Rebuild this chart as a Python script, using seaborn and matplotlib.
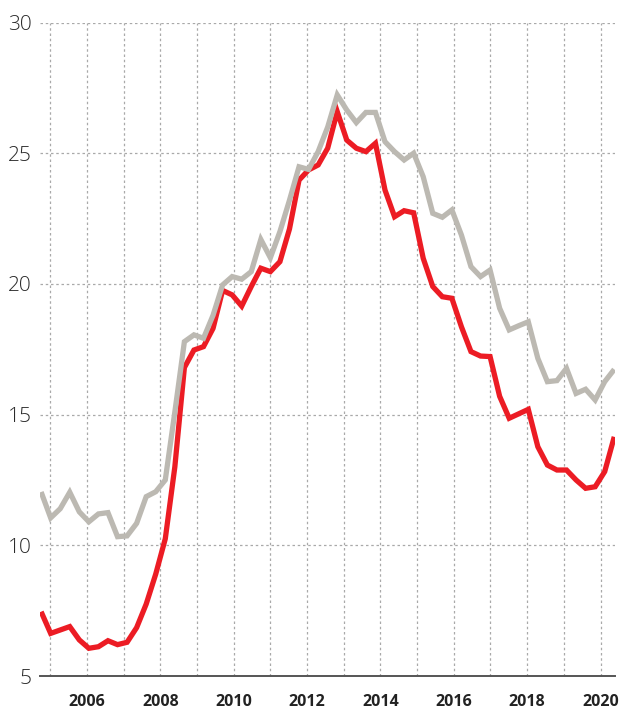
import numpy as np
import pandas as pd
import matplotlib
matplotlib.use("Agg")
import matplotlib.pyplot as plt
import seaborn as sns
from matplotlib.ticker import MultipleLocator, FixedLocator

# ---- data ----
start_year = 2004.75
end_year = 2020.375
gray_values = [12.04, 11.05, 11.4, 12.03, 11.28, 10.9, 11.2, 11.25, 10.33, 10.36,
               10.84, 11.86, 12.05, 12.5, 15.1, 17.79, 18.05, 17.92, 18.8, 19.96,
               20.28, 20.18, 20.47, 21.7, 21.0, 22.0, 23.2, 24.48, 24.38, 25.06,
               26.0, 27.23, 26.65, 26.17, 26.56, 26.56, 25.44, 25.06, 24.74, 25.0,
               24.1, 22.7, 22.55, 22.83, 21.87, 20.66, 20.28, 20.53, 19.07, 18.24,
               18.4, 18.55, 17.15, 16.26, 16.3, 16.77, 15.81, 15.97, 15.56, 16.26,
               16.73]
red_values = [7.46, 6.63, 6.76, 6.89, 6.38, 6.06, 6.12, 6.35, 6.2, 6.29,
              6.85, 7.75, 8.9, 10.25, 13.0, 16.8, 17.47, 17.6, 18.3, 19.75,
              19.58, 19.15, 19.9, 20.6, 20.47, 20.85, 22.1, 23.97, 24.36, 24.55,
              25.19, 26.59, 25.5, 25.19, 25.06, 25.38, 23.59, 22.57, 22.8, 22.72,
              20.98, 19.9, 19.51, 19.45, 18.36, 17.41, 17.24, 17.22, 15.7, 14.86,
              15.03, 15.2, 13.77, 13.07, 12.88, 12.88, 12.5, 12.18, 12.24, 12.82,
              14.15]
time = np.linspace(start_year, end_year, len(gray_values))
year_labels = [2006, 2008, 2010, 2012, 2014, 2016, 2018, 2020]
y_ticks = [5, 10, 15, 20, 25, 30]

df = pd.DataFrame({"t": np.concatenate([time, time]),
                   "v": red_values + gray_values,
                   "series": ["red"] * len(red_values) + ["gray"] * len(gray_values)})

sns.set_theme(style="white")
plt.rcParams["font.family"] = ["Open Sans", "DejaVu Sans"]

fig = plt.figure(figsize=(6.21, 7.09), dpi=100)
ax = fig.add_axes([40 / 621, 1 - 676 / 709, (615 - 40) / 621, (676 - 22.5) / 709])

sns.lineplot(data=df, x="t", y="v", hue="series",
             palette={"red": "#EC1C24", "gray": "#BCB9B2"},
             hue_order=["red", "gray"], linewidth=3.8, ax=ax, legend=False,
             solid_capstyle="butt", solid_joinstyle="miter", zorder=3)

ax.set_xlim(start_year - 0.03, end_year + 0.02)
ax.set_ylim(5, 30)

ax.xaxis.set_major_locator(FixedLocator(year_labels))
ax.xaxis.set_minor_locator(MultipleLocator(1))
ax.set_xticks(year_labels)
ax.set_xticklabels([str(y) for y in year_labels], fontsize=11.5,
                   fontweight="bold", color="#222222")
ax.set_yticks(y_ticks)
ax.set_yticklabels([str(y) for y in y_ticks], fontsize=15, color="#2a2a2a")
for lab in ax.get_yticklabels():
    lab.set_fontweight("light")

ax.tick_params(axis="x", which="both", length=0, pad=13)
ax.tick_params(axis="y", length=0, pad=6)

ax.grid(True, axis="x", which="both", linestyle=(0, (2, 2.2)), color="#A9A9A9",
        linewidth=0.9)
ax.grid(True, axis="y", which="major", linestyle=(0, (2, 2.2)), color="#A9A9A9",
        linewidth=0.9)

for s in ["top", "right", "left"]:
    ax.spines[s].set_visible(False)
ax.spines["bottom"].set_color("#555555")
ax.spines["bottom"].set_linewidth(1.4)
ax.spines["bottom"].set_zorder(4)
ax.set_xlabel("")
ax.set_ylabel("")

fig.savefig("out.png", dpi=100)
